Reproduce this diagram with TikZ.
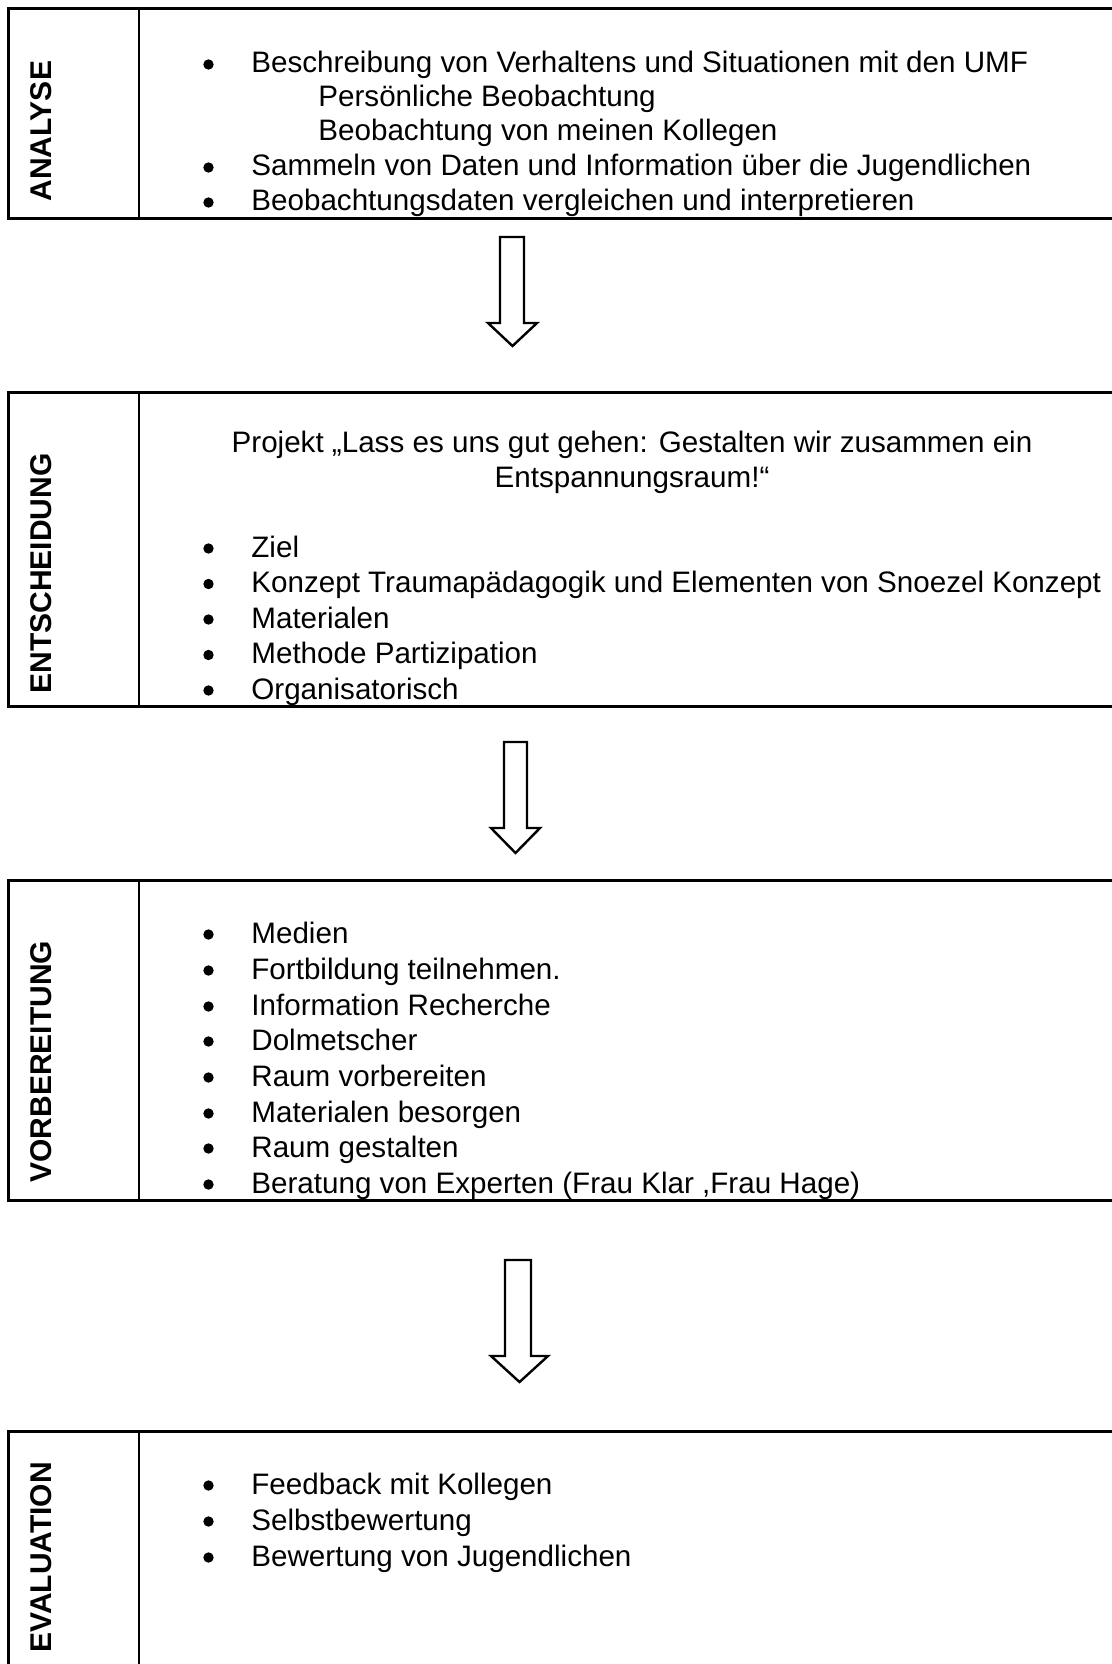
\documentclass[tikz,border=0pt]{standalone}
\usepackage{fontspec}
\setmainfont{Liberation Sans}
\begin{document}
\begin{tikzpicture}[x=0.5pt,y=-0.5pt,
  txt/.style={anchor=base west,inner sep=0pt,font=\fontsize{14.8pt}{17pt}\selectfont},
  ctxt/.style={anchor=base,inner sep=0pt,font=\fontsize{14.8pt}{17pt}\selectfont},
  lbl/.style={anchor=base west,inner sep=0pt,rotate=90,font=\fontsize{15pt}{17pt}\selectfont\bfseries},
  frame/.style={line width=1.5pt},
  divider/.style={line width=1.1pt},
  blockarrow/.style={line width=1.2pt,fill=white,line join=miter},
  dot/.style={circle,fill=black,inner sep=0pt,minimum size=5.2pt}]
\useasboundingbox (0,0) rectangle (1112,1664);
\clip (0,0) rectangle (1112,1664);

% ---------- Box 1: ANALYSE ----------
\draw[frame] (1130,9) -- (8,9) -- (8,219) -- (1130,219);
\draw[divider] (139,9) -- (139,219);
\node[lbl] (l1) at (51,202) {ANALYSE};
\node[dot] (d11) at (208.5,64.5) {};
\node[txt] (t11) at (251,73) {Beschreibung von Verhaltens und Situationen mit den UMF};
\node[txt] (t12) at (318,107) {Persönliche Beobachtung};
\node[txt] (t13) at (318,141) {Beobachtung von meinen Kollegen};
\node[dot] (d14) at (208.5,167.5) {};
\node[txt] (t14) at (251,176) {Sammeln von Daten und Information über die Jugendlichen};
\node[dot] (d15) at (208.5,202.5) {};
\node[txt] (t15) at (251,211) {Beobachtungsdaten vergleichen und interpretieren};

% ---------- Arrow 1 ----------
\draw[blockarrow] (500,237) -- (524,237) -- (524,323) -- (537,323) -- (512.5,346)
  -- (488,323) -- (500,323) -- cycle;

% ---------- Box 2: ENTSCHEIDUNG ----------
\draw[frame] (1130,392) -- (8,392) -- (8,706) -- (1130,706);
\draw[divider] (139,392) -- (139,706);
\node[lbl] (l2) at (51,694) {ENTSCHEIDUNG};
\node[ctxt] (p1) at (632,452) {Projekt „Lass es uns gut gehen: Gestalten wir zusammen ein};
\node[ctxt] (p2) at (632,487) {Entspannungsraum!“};
\node[dot] (d21) at (208.5,548.5) {};
\node[txt] (t21) at (251,557) {Ziel};
\node[dot] (d22) at (208.5,584) {};
\node[txt] (t22) at (251,592.5) {Konzept Traumapädagogik und Elementen von Snoezel Konzept};
\node[dot] (d23) at (208.5,619.5) {};
\node[txt] (t23) at (251,628) {Materialen};
\node[dot] (d24) at (208.5,655) {};
\node[txt] (t24) at (251,663.5) {Methode Partizipation};
\node[dot] (d25) at (208.5,690.5) {};
\node[txt] (t25) at (251,699) {Organisatorisch};

% ---------- Arrow 2 ----------
\draw[blockarrow] (504,742) -- (527,742) -- (527,828) -- (540,828) -- (515.5,853)
  -- (491,828) -- (504,828) -- cycle;

% ---------- Box 3: VORBEREITUNG ----------
\draw[frame] (1130,880) -- (8,880) -- (8,1200) -- (1130,1200);
\draw[divider] (139,880) -- (139,1200);
\node[lbl] (l3) at (51,1183) {VORBEREITUNG};
\node[dot] (d31) at (208.5,934.5) {};
\node[txt] (t31) at (251,943) {Medien};
\node[dot] (d32) at (208.5,970.5) {};
\node[txt] (t32) at (251,979) {Fortbildung teilnehmen.};
\node[dot] (d33) at (208.5,1006.5) {};
\node[txt] (t33) at (251,1015) {Information Recherche};
\node[dot] (d34) at (208.5,1041.5) {};
\node[txt] (t34) at (251,1050) {Dolmetscher};
\node[dot] (d35) at (208.5,1077.5) {};
\node[txt] (t35) at (251,1086) {Raum vorbereiten};
\node[dot] (d36) at (208.5,1113.5) {};
\node[txt] (t36) at (251,1122) {Materialen besorgen};
\node[dot] (d37) at (208.5,1148.5) {};
\node[txt] (t37) at (251,1157) {Raum gestalten};
\node[dot] (d38) at (208.5,1184.5) {};
\node[txt] (t38) at (251,1193) {Beratung von Experten (Frau Klar ,Frau Hage)};

% ---------- Arrow 3 ----------
\draw[blockarrow] (505,1260) -- (531,1260) -- (531,1356) -- (548,1356) -- (519.5,1382)
  -- (491,1356) -- (505,1356) -- cycle;

% ---------- Box 4: EVALUATION ----------
\draw[frame] (1130,1431) -- (8,1431) -- (8,1680);
\draw[divider] (139,1431) -- (139,1680);
\node[lbl] (l4) at (51,1653) {EVALUATION};
\node[dot] (d41) at (208.5,1485.5) {};
\node[txt] (t41) at (251,1494) {Feedback mit Kollegen};
\node[dot] (d42) at (208.5,1521.5) {};
\node[txt] (t42) at (251,1530) {Selbstbewertung};
\node[dot] (d43) at (208.5,1557.5) {};
\node[txt] (t43) at (251,1566) {Bewertung von Jugendlichen};
\end{tikzpicture}
\end{document}
